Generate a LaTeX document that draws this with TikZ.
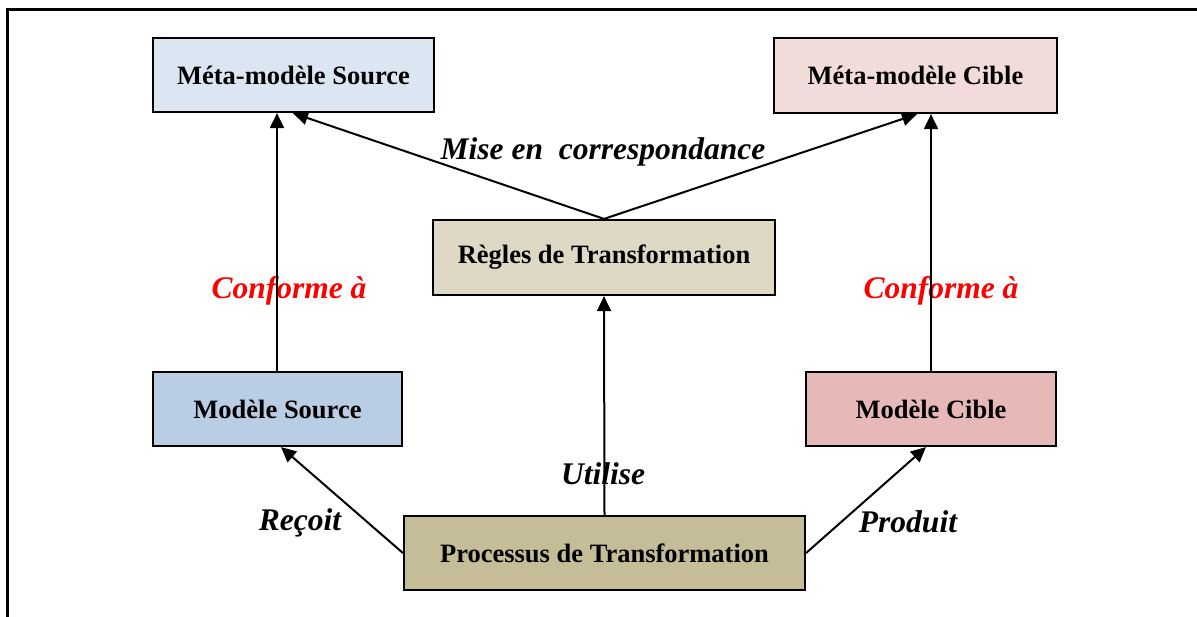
\documentclass[tikz,border=0pt]{standalone}
\usepackage{fontspec}
\setmainfont{Liberation Serif}
\usetikzlibrary{arrows.meta}
\definecolor{metasrc}{HTML}{DCE6F2}
\definecolor{metacib}{HTML}{F2DCDB}
\definecolor{regles}{HTML}{DDD9C4}
\definecolor{modsrc}{HTML}{B9CDE5}
\definecolor{modcib}{HTML}{E6B9B8}
\definecolor{proc}{HTML}{C4BD97}
\tikzset{
  boxnode/.style={draw=black, line width=2.2pt, rectangle, inner sep=0pt,
    font=\fontsize{26.5}{30}\selectfont\bfseries},
  link/.style={draw=black, line width=2pt, -{Triangle[length=15pt,width=14pt]}},
  lbl/.style={font=\fontsize{31.5}{36}\selectfont\bfseries\itshape, inner sep=0pt},
  redlbl/.style={lbl, text=red},
}
\begin{document}
\begin{tikzpicture}[x=1pt, y=-1pt]
\useasboundingbox (0,0) rectangle (1197,617);
% outer frame (top and left edges)
\draw[line width=3pt] (7,617) -- (7,10) -- (1197,10);

% labels (drawn first so the connectors pass over them)
\node[lbl] (lmise) at (603,152) {Mise en\ \ correspondance};
\node[redlbl] (lcs) at (289,291) {Conforme à};
\node[redlbl] (lcc) at (941,291) {Conforme à};
\node[lbl] (lut) at (603,474) {Utilise};
\node[lbl] (lre) at (300,523) {Reçoit};
\node[lbl] (lpr) at (908,522) {Produit};

% boxes
\node[boxnode, fill=metasrc, minimum width=281pt, minimum height=74pt] (ms) at (293.5,75) {Méta-modèle Source};
\node[boxnode, fill=metacib, minimum width=283pt, minimum height=75pt] (mc) at (915.5,75.5) {Méta-modèle Cible};
\node[boxnode, fill=regles, minimum width=342pt, minimum height=75pt] (rt) at (604,257.5) {Règles de Transformation};
\node[boxnode, fill=modsrc, minimum width=249pt, minimum height=74pt] (so) at (277.5,409) {Modèle Source};
\node[boxnode, fill=modcib, minimum width=250pt, minimum height=74pt] (ci) at (931,409) {Modèle Cible};
\node[boxnode, fill=proc, minimum width=401pt, minimum height=74pt] (pt) at (604.5,553) {Processus de Transformation};

% connectors
\draw[link] (so.north -| 277,0) -- (ms.south -| 277,0);
\draw[link] (ci.north -| 931,0) -- (mc.south -| 931,0);
\draw[link] (pt.north) -- (rt.south);
\draw[link] (rt.north) -- (ms.south -| 293,0);
\draw[link] (rt.north) -- (mc.south -| 917,0);
\draw[link] (pt.west) -- (so.south -| 281,0);
\draw[link] (pt.east) -- (ci.south -| 926,0);
\end{tikzpicture}
\end{document}
